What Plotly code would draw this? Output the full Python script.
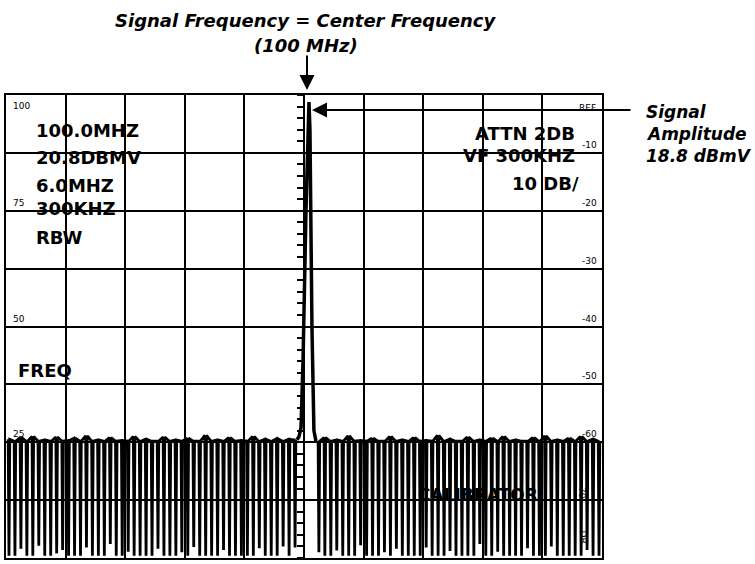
import numpy as np
import plotly.graph_objects as go

# ---------------- data ----------------
center_mhz = 100.0
span_mhz = 6.0
ref_dbmv = 20.8
db_per_div = 10

# sweep frequencies of the displayed noise spikes (MHz)
sweep_start = 97.03
sweep_step = 0.06
n_spikes = 100

noise_peak_db = [
    -59.5, -59.8, -59.2, -59.8, -59.0, -59.8, -59.6, -59.8, -59.1, -59.8,
    -59.7, -59.3, -59.8, -58.9, -59.8, -59.6, -59.8, -59.2, -59.8, -59.7,
    -59.8, -59.0, -59.8, -59.5, -59.8, -59.8, -59.1, -59.8, -59.6, -59.8,
    -59.3, -59.8, -59.8, -58.8, -59.8, -59.6, -59.8, -59.2, -59.8, -59.7,
    -59.8, -59.0, -59.8, -59.5, -59.8, -59.4, -59.8, -59.5, -59.6, None,
    None, None, -59.8, -59.2, -59.8, -59.6, -59.8, -58.9, -59.8, -59.7,
    -59.8, -59.3, -59.8, -59.8, -59.0, -59.8, -59.6, -59.8, -59.2, -59.8,
    -59.7, -59.8, -58.8, -59.8, -59.5, -59.8, -59.8, -59.1, -59.8, -59.6,
    -59.8, -59.3, -59.8, -59.0, -59.8, -59.6, -59.8, -59.8, -59.2, -59.8,
    -58.9, -59.8, -59.6, -59.8, -59.3, -59.8, -59.0, -59.8, -59.5, -59.8,
]
noise_trough_db = [
    -79.6, -79.6, -78.4, -79.6, -79.6, -77.9, -79.6, -79.6, -79.2, -78.6,
    -79.6, -79.6, -79.6, -78.2, -79.6, -79.6, -79.6, -77.6, -79.6, -79.6,
    -78.9, -79.6, -79.6, -79.6, -79.6, -78.4, -79.6, -79.6, -79.6, -79.0,
    -79.6, -78.1, -79.6, -79.6, -79.6, -79.6, -78.6, -79.6, -79.6, -79.6,
    -79.6, -79.6, -78.3, -79.6, -79.6, -79.6, -78.0, -79.6, -78.2, None,
    None, None, -79.0, -79.6, -79.6, -78.7, -79.6, -79.6, -79.6, -77.8,
    -79.6, -79.6, -79.6, -79.0, -79.6, -78.4, -79.6, -79.6, -79.6, -79.6,
    -78.2, -79.6, -79.6, -79.6, -78.8, -79.6, -79.6, -79.6, -79.6, -77.6,
    -79.6, -79.6, -78.9, -79.6, -79.6, -79.6, -79.6, -78.3, -79.6, -79.6,
    -79.6, -78.0, -79.6, -79.6, -79.6, -79.6, -79.6, -78.6, -79.6, -79.6,
]

signal_freq_mhz = [99.93, 99.95, 99.97, 99.99, 100.02, 100.04, 100.05, 100.06, 100.08, 100.10, 100.12]
signal_db = [-59.6, -59.0, -57.5, -46.0, -20.0, -5.0, -1.2, -6.0, -40.0, -58.0, -59.8]

left_scale_labels = ["100", "75", "50", "25"]
left_scale_db = [0, -20, -40, -60]
right_scale_labels = ["-10", "-20", "-30", "-40", "-50", "-60"]
right_scale_db = [-10, -20, -30, -40, -50, -60]

left_info = ["100.0MHZ", "20.8DBMV", "6.0MHZ", "300KHZ", "RBW"]
right_info = ["ATTN 2DB", "VF 300KHZ", "10 DB/"]

# ---------------- build traces ----------------
spike_w = 0.008
nx, ny = [], []
for i in range(n_spikes):
    f = sweep_start + sweep_step * i
    pk, tr = noise_peak_db[i], noise_trough_db[i]
    if pk is None:
        nx.append(None); ny.append(None)
        continue
    nx += [f - spike_w, f, f + spike_w]
    ny += [pk, tr, pk]

x0, x1 = center_mhz - span_mhz / 2, center_mhz + span_mhz / 2
y0, y1 = -8 * db_per_div, 0

fig = go.Figure()
fig.add_trace(go.Scatter(x=nx, y=ny, mode="lines", connectgaps=False,
                         line=dict(color="black", width=2.8), hoverinfo="skip",
                         showlegend=False))
fig.add_trace(go.Scatter(x=signal_freq_mhz, y=signal_db, mode="lines", yaxis="y2",
                         line=dict(color="black", width=3.5), hoverinfo="skip",
                         showlegend=False))

# ---------------- layout ----------------
L, R, T, B = 6, 602, 95, 558
W, H = 755, 564


def px_x(p):
    return (p - L) / (R - L)


def px_y(p):
    return (B - p) / (B - T)


bold = dict(family="DejaVu Sans", size=18, color="black", weight="bold")
boldit = dict(family="DejaVu Sans", size=18, color="black", weight="bold", style="italic")
small = dict(family="DejaVu Sans", size=9, color="black")

ann = []
# title
ann.append(dict(x=px_x(306), y=px_y(21), xref="paper", yref="paper", text="Signal Frequency = Center Frequency",
                showarrow=False, font=boldit, xanchor="center", yanchor="middle"))
ann.append(dict(x=px_x(306), y=px_y(46), xref="paper", yref="paper", text="(100 MHz)",
                showarrow=False, font=boldit, xanchor="center", yanchor="middle"))
# arrows
ann.append(dict(x=px_x(307), y=px_y(90), xref="paper", yref="paper", text="", showarrow=True,
                ax=0, ay=-36, arrowhead=2, arrowsize=1.5, arrowwidth=2, arrowcolor="black"))
ann.append(dict(x=px_x(312), y=px_y(110), xref="paper", yref="paper", text="", showarrow=True,
                ax=320, ay=0, arrowhead=2, arrowsize=1.5, arrowwidth=2, arrowcolor="black"))
# right side note
for txt, yc in zip(["Signal", "Amplitude", "18.8 dBmV"], [112, 134, 156]):
    ann.append(dict(x=px_x(644), y=px_y(yc), xref="paper", yref="paper", text=txt, showarrow=False,
                    font=dict(boldit, size=17), xanchor="left", yanchor="middle"))
# left info block
for txt, yc in zip(left_info, [130, 157, 185, 208, 237]):
    ann.append(dict(x=px_x(34), y=px_y(yc), xref="paper", yref="paper", text=txt, showarrow=False,
                    font=bold, xanchor="left", yanchor="middle"))
# right info block
for txt, yc, xr in zip(right_info, [133, 155, 183], [577, 577, 581]):
    ann.append(dict(x=px_x(xr), y=px_y(yc), xref="paper", yref="paper", text=txt, showarrow=False,
                    font=bold, xanchor="right", yanchor="middle"))
ann.append(dict(x=px_x(16), y=px_y(370), xref="paper", yref="paper", text="FREQ", showarrow=False,
                font=bold, xanchor="left", yanchor="middle"))
ann.append(dict(x=px_x(478), y=px_y(495), xref="paper", yref="paper", text="CALIBRATOR", showarrow=False,
                font=dict(bold, size=17), xanchor="center", yanchor="middle"))
# scale labels
for txt, d in zip(left_scale_labels, left_scale_db):
    ann.append(dict(x=x0, y=d, xref="x", yref="y", text=txt, showarrow=False, font=small,
                    xanchor="left", yanchor="top" if d == 0 else "bottom", xshift=5, yshift=-4 if d == 0 else 1))
for txt, d in zip(right_scale_labels, right_scale_db):
    ann.append(dict(x=x1, y=d, xref="x", yref="y", text=txt, showarrow=False, font=small,
                    xanchor="right", yanchor="bottom", xshift=-3, yshift=1))
ann.append(dict(x=x1, y=0, xref="x", yref="y", text="REF", showarrow=False, font=small,
                xanchor="right", yanchor="top", xshift=-4, yshift=-6))
ann.append(dict(x=px_x(589), y=px_y(501), xref="paper", yref="paper", text="70", showarrow=False,
                font=small, textangle=90))
ann.append(dict(x=px_x(590), y=px_y(545), xref="paper", yref="paper", text="DB", showarrow=False,
                font=small, textangle=90))

axis_common = dict(showticklabels=False, ticks="", zeroline=False, showline=True, mirror=True,
                   linecolor="black", linewidth=1.5, showgrid=True, gridcolor="black", gridwidth=1.5)

fig.update_layout(
    width=W, height=H,
    margin=dict(l=L, r=W - R, t=T, b=H - B, pad=0),
    paper_bgcolor="white", plot_bgcolor="white",
    showlegend=False,
    xaxis=dict(range=[x0, x1], tick0=x0, dtick=span_mhz / 10, **axis_common),
    yaxis=dict(range=[y0, y1], tick0=y0, dtick=db_per_div, **axis_common),
    yaxis2=dict(range=[y0, y1], overlaying="y", anchor="free", position=0.5, side="left",
                showticklabels=False, ticks="outside", ticklen=6, tickwidth=1.5, tickcolor="black",
                dtick=2, showline=True, linecolor="black", linewidth=1.5, showgrid=False, zeroline=False),
    annotations=ann,
)

fig.write_html("out.html", config={"displayModeBar": False},
               post_script="document.body.style.margin='0';document.body.style.overflow='hidden';")
